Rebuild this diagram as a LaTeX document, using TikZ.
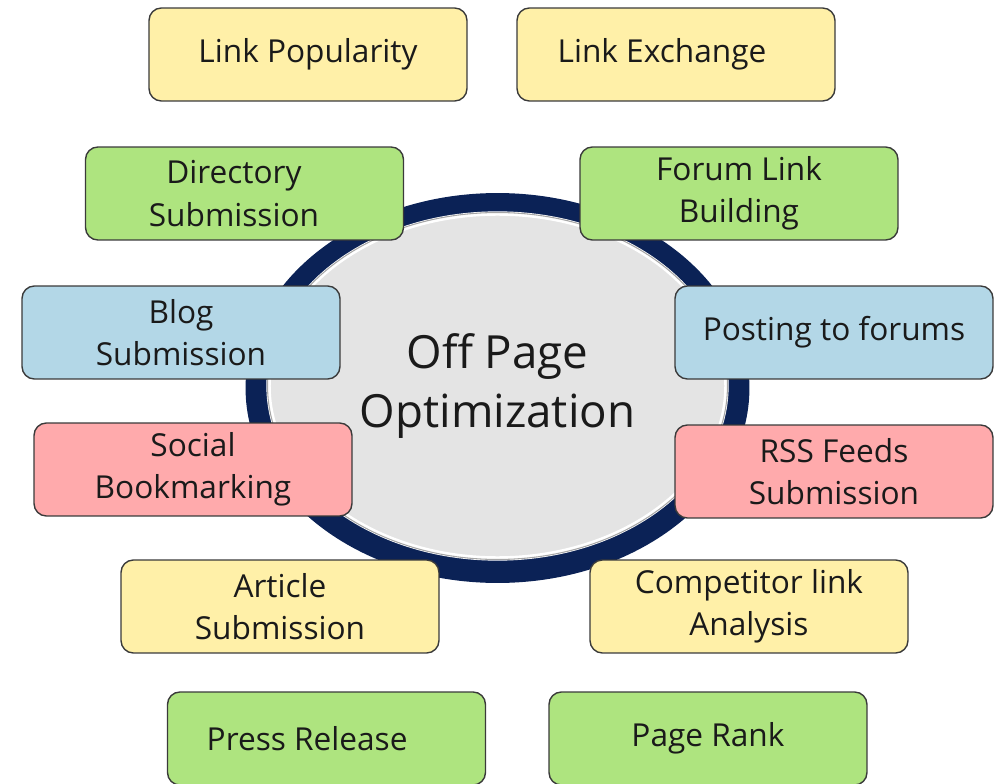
\documentclass[tikz,border=0pt]{standalone}
\usepackage{fontspec}
\setmainfont{Open Sans}
\usetikzlibrary{positioning,shapes.geometric}
\definecolor{SeoYellow}{HTML}{FFF0A8}
\definecolor{SeoGreen}{HTML}{AEE47F}
\definecolor{SeoBlue}{HTML}{B3D7E7}
\definecolor{SeoPink}{HTML}{FFAAAC}
\definecolor{SeoNavy}{HTML}{0B2256}
\definecolor{SeoGrey}{HTML}{E4E4E4}
\definecolor{SeoEdge}{HTML}{3A3A3A}
\definecolor{SeoText}{HTML}{1A1A1A}

\begin{document}
\begin{tikzpicture}[x=0.02cm,y=-0.02cm,
    tag/.style={rounded corners=7pt,draw=SeoEdge,line width=0.8pt,
      minimum width=6.36cm,minimum height=1.86cm,align=center,
      text=SeoText,font=\fontsize{18}{24}\selectfont}]
    \useasboundingbox (0,0) rectangle (995,784);
    % hub
    \node[ellipse,fill=SeoNavy,inner sep=0pt,
      minimum width=10.08cm,minimum height=7.8cm] (ring) at (497.5,388) {};
    \node[ellipse,fill=SeoGrey,draw=white,line width=2.5pt,inner sep=0pt,
      minimum width=9.16cm,minimum height=6.9cm,align=center,text=SeoText,
      font=\fontsize{26}{34}\selectfont] (hub) at (497.5,386)
      {Off Page\\Optimization};
    \draw[gray!70,line width=0.6pt] (hub.center) ellipse [x radius=4.6cm,y radius=3.47cm];
    % boxes
    \node[tag,fill=SeoYellow] (pop) at (308,54.5) {Link Popularity};
    \node[tag,fill=SeoYellow] (exch) at (676,54.5) {\hspace*{-16pt}Link Exchange};
    \node[tag,fill=SeoGreen] (dir) at (244.5,193.5) {\hspace*{-12pt}Directory\\\hspace*{-12pt}Submission};
    \node[tag,fill=SeoGreen] (forum) at (739,193.5) {Forum Link\\Building};
    \node[tag,fill=SeoBlue] (blog) at (181,332.5) {Blog\\Submission};
    \node[tag,fill=SeoBlue] (post) at (834,332.5) {Posting to forums};
    \node[tag,fill=SeoPink] (social) at (193,469.5) {Social\\Bookmarking};
    \node[tag,fill=SeoPink] (rss) at (834,471.5) {RSS Feeds\\Submission};
    \node[tag,fill=SeoYellow] (article) at (280,606.5) {Article\\Submission};
    \node[tag,fill=SeoYellow] (comp) at (749,606.5) {Competitor link\\Analysis};
    \node[tag,fill=SeoGreen] (press) at (326.5,738.5) {\hspace*{-22pt}Press Release};
    \node[tag,fill=SeoGreen] (rank) at (708,738.5) {Page Rank};
  \end{tikzpicture}
\end{document}
